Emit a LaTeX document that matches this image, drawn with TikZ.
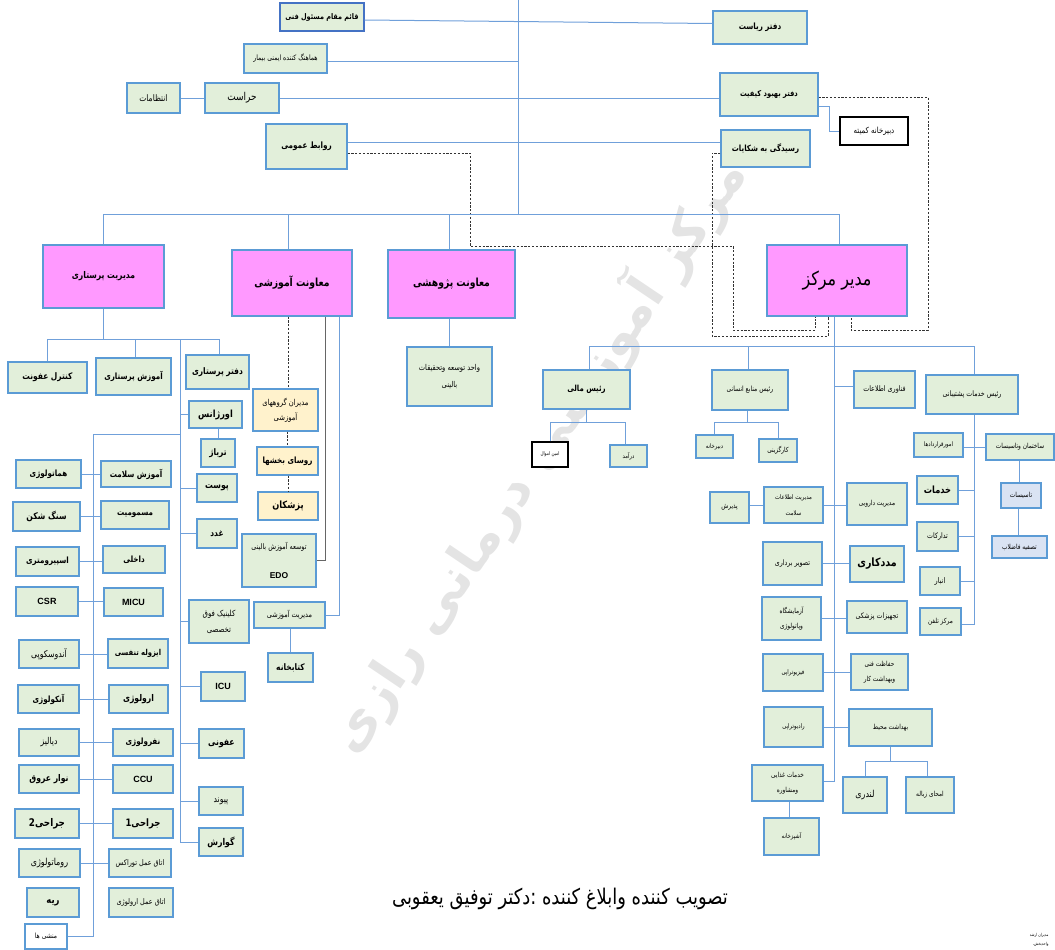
\documentclass[tikz,border=0pt]{standalone}
\usepackage{fontspec}
\setmainfont{Liberation Sans}
\newfontfamily\ar[Script=Arabic,Scale=1.2,FakeStretch=0.83]{DejaVu Sans}
\newfontfamily\arw[Script=Arabic]{DejaVu Sans}
\TeXXeTstate=1
\newcommand{\fa}[1]{{\ar\beginR #1\endR}}
\newcommand{\faw}[1]{{\arw\beginR #1\endR}}
\newcommand{\fzz}[2]{\fontsize{#1}{#2}\selectfont}
\newcommand{\fz}[1]{\fontsize{#1}{#1}\selectfont}
\newcommand{\bfz}[1]{\fontsize{#1}{#1}\selectfont\bfseries}
\newcommand{\Bx}[7]{\node[#1, minimum width={#5-#4}, minimum height={#7-#6}] (#2) at ({(#4+#5)/2},{(#6+#7)/2}) {#3};}
\definecolor{bb}{RGB}{91,155,213}
\definecolor{bd}{RGB}{68,114,196}
\definecolor{gg}{RGB}{226,239,218}
\definecolor{pk}{RGB}{255,153,255}
\definecolor{oy}{RGB}{255,242,204}
\definecolor{lb}{RGB}{218,227,243}
\definecolor{ll}{RGB}{112,160,218}
\definecolor{wmc}{RGB}{228,228,228}
\tikzset{
  gbox/.style={draw=bb, line width=1.1pt, fill=gg, inner sep=0pt, align=center},
  pbox/.style={gbox, fill=pk},
  obox/.style={gbox, fill=oy},
  lbox/.style={gbox, fill=lb},
  wbox/.style={draw=black, line width=1.1pt, fill=white, inner sep=0pt, align=center},
  mbox/.style={gbox, fill=white},
  ln/.style={draw=ll, line width=1pt},
  gl/.style={draw=black!60, line width=1pt},
  dsh/.style={draw=black!80, line width=0.8pt, dash pattern=on 2.2pt off 1.6pt},
}
\begin{document}
\begin{tikzpicture}[x=1pt,y=-1pt]
\useasboundingbox (0,0) rectangle (1055,950);
% watermark
\node[font=\fz{52}\bfseries, text=wmc, rotate=56] (wm) at (536,455) {\faw{مرکز آموزشی درمانی رازی}};

% ---------- top staff ----------
\Bx{gbox,draw=bd,line width=1.3pt,font=\bfz{6.5}}{qaem}{\fa{قائم مقام مسئول فنی}}{280}{364}{3}{31}
\Bx{gbox,font=\bfz{7.2}}{riasat}{\fa{دفتر ریاست}}{713}{807}{11}{44}
\Bx{gbox,font=\fz{6.2}}{hamahang}{\fa{هماهنگ کننده ایمنی بیمار}}{244}{327}{44}{73}
\Bx{gbox,font=\fz{9}}{herasat}{\fa{حراست}}{205}{279}{83}{113}
\Bx{gbox,font=\fz{7.5}}{entezamat}{\fa{انتظامات}}{127}{180}{83}{113}
\Bx{gbox,font=\bfz{6.7}}{behbood}{\fa{دفتر بهبود کیفیت}}{720}{818}{73}{116}
\Bx{wbox,font=\fz{7}}{dabirkomite}{\fa{دبیرخانه کمیته}}{840}{908}{117}{145}
\Bx{gbox,font=\bfz{7.3}}{ravabet}{\fa{روابط عمومی}}{266}{347}{124}{169}
\Bx{gbox,font=\bfz{7.1}}{rasidegi}{\fa{رسیدگی به شکایات}}{721}{810}{130}{167}

% ---------- pink heads ----------
\Bx{pbox,font=\bfz{7.7}}{parastari}{\fa{مدیریت پرستاری}}{43}{164}{245}{308}
\Bx{pbox,font=\bfz{9.3}}{amoozeshi}{\fa{معاونت آموزشی}}{232}{352}{250}{316}
\Bx{pbox,font=\bfz{9.3}}{pazhooheshi}{\fa{معاونت پژوهشی}}{388}{515}{250}{318}
\Bx{pbox,font=\fz{16}}{mdir}{\fa{مدیر مرکز}}{767}{907}{245}{316}

% ---------- nursing ----------
\Bx{gbox,font=\bfz{7.5}}{kontrol}{\fa{کنترل عفونت}}{8}{87}{362}{393}
\Bx{gbox,font=\bfz{7.2}}{amoozparastari}{\fa{آموزش پرستاری}}{96}{171}{358}{395}
\Bx{gbox,font=\bfz{7.5}}{daftarparastari}{\fa{دفتر پرستاری}}{186}{249}{355}{389}
\Bx{gbox,font=\bfz{8.2}}{orjans}{\fa{اورژانس}}{189}{242}{401}{428}
\Bx{gbox,font=\bfz{7.5}}{triazh}{\fa{تریاژ}}{201}{235}{439}{467}
\Bx{gbox,font=\bfz{7.8}}{poost}{\fa{پوست}}{197}{237}{474}{502}
\Bx{gbox,font=\bfz{7.5}}{ghodad}{\fa{غدد}}{197}{237}{519}{548}
\Bx{gbox,font=\fzz{7}{16}}{klinik}{\fa{کلینیک فوق}\\\fa{تخصصی}}{189}{249}{600}{643}
\Bx{gbox,font=\bfz{9}}{icu}{ICU}{201}{245}{672}{701}
\Bx{gbox,font=\bfz{7.8}}{oofooni}{\fa{عفونی}}{199}{244}{729}{758}
\Bx{gbox,font=\fz{7.8}}{peyvand}{\fa{پیوند}}{199}{243}{787}{815}
\Bx{gbox,font=\bfz{7.8}}{govaresh}{\fa{گوارش}}{199}{243}{828}{856}

\Bx{gbox,font=\bfz{7.2}}{amoozsalamat}{\fa{آموزش سلامت}}{101}{171}{461}{487}
\Bx{gbox,font=\bfz{7.2}}{hematology}{\fa{هماتولوژی}}{16}{81}{460}{488}
\Bx{gbox,font=\bfz{7.2}}{masmoomiat}{\fa{مسمومیت}}{101}{169}{501}{529}
\Bx{gbox,font=\bfz{7.7}}{sangshekan}{\fa{سنگ شکن}}{13}{80}{502}{531}
\Bx{gbox,font=\bfz{7.2}}{dakheli}{\fa{داخلی}}{103}{165}{546}{573}
\Bx{gbox,font=\bfz{7.2}}{spirometry}{\fa{اسپیرومتری}}{16}{79}{547}{576}
\Bx{gbox,font=\bfz{9}}{micu}{MICU}{104}{163}{588}{616}
\Bx{gbox,font=\bfz{9}}{csr}{CSR}{16}{78}{587}{616}
\Bx{gbox,font=\bfz{6.8}}{izole}{\fa{ایزوله تنفسی}}{108}{168}{639}{668}
\Bx{gbox,font=\fz{7.8}}{endoscopy}{\fa{آندوسکوپی}}{19}{79}{640}{668}
\Bx{gbox,font=\bfz{7.7}}{urology}{\fa{ارولوژی}}{109}{168}{685}{713}
\Bx{gbox,font=\bfz{7.2}}{oncology}{\fa{آنکولوژی}}{18}{79}{685}{713}
\Bx{gbox,font=\bfz{7.2}}{nephrology}{\fa{نفرولوژی}}{113}{173}{729}{756}
\Bx{gbox,font=\fz{7.8}}{dialysis}{\fa{دیالیز}}{19}{79}{729}{756}
\Bx{gbox,font=\bfz{9}}{ccu}{CCU}{113}{173}{765}{793}
\Bx{gbox,font=\bfz{7.7}}{navar}{\fa{نوار عروق}}{19}{79}{765}{793}
\Bx{gbox,font=\bfz{8.5}}{jarahi1}{\fa{جراحی1}}{113}{173}{809}{838}
\Bx{gbox,font=\bfz{8.8}}{jarahi2}{\fa{جراحی2}}{15}{79}{809}{838}
\Bx{gbox,font=\fz{6.5}}{toraks}{\fa{اتاق عمل توراکس}}{109}{171}{849}{877}
\Bx{gbox,font=\fz{8}}{rheum}{\fa{روماتولوژی}}{19}{80}{849}{877}
\Bx{gbox,font=\fz{6.5}}{orolozhi}{\fa{اتاق عمل ارولوژی}}{109}{173}{888}{917}
\Bx{gbox,font=\bfz{8.5}}{rie}{\fa{ریه}}{27}{79}{888}{917}
\Bx{mbox,font=\fz{6}}{monshi}{\fa{منشی ها}}{25}{67}{924}{949}

% ---------- education ----------
\Bx{obox,font=\fzz{6.8}{15}}{modiran}{\fa{مدیران گروههای}\\\fa{آموزشی}}{253}{318}{389}{431}
\Bx{obox,font=\bfz{7.2}}{rosa}{\fa{روسای بخشها}}{257}{318}{447}{475}
\Bx{obox,font=\bfz{8.3}}{pezeshkan}{\fa{پزشکان}}{258}{318}{492}{520}
\Bx{gbox,font=\fzz{6.4}{29}}{edo}{\fa{توسعه آموزش بالینی}\\{\bfseries\fz{8.5}EDO}}{242}{316}{534}{587}
\Bx{gbox,font=\fz{6.5}}{mamoozeshi}{\fa{مدیریت آموزشی}}{254}{325}{602}{628}
\Bx{gbox,font=\bfz{7.5}}{ketab}{\fa{کتابخانه}}{268}{313}{653}{682}
\Bx{gbox,font=\fzz{6.7}{17}}{vahed}{\fa{واحد توسعه وتحقیقات}\\\fa{بالینی}}{407}{492}{347}{406}

% ---------- director subtree ----------
\Bx{gbox,font=\bfz{7}}{mali}{\fa{رئیس  مالی}}{543}{630}{370}{409}
\Bx{gbox,font=\fz{6}}{manabe}{\fa{رئیس منابع انسانی}}{712}{788}{370}{410}
\Bx{gbox,font=\fz{6.4}}{fanavari}{\fa{فناوری اطلاعات}}{854}{915}{371}{408}
\Bx{gbox,font=\fz{6.3}}{poshtibani}{\fa{رئیس  خدمات پشتیبانی}}{926}{1018}{375}{414}
\Bx{wbox,font=\fz{4.2}}{amin}{\fa{امین اموال}}{532}{568}{442}{467}
\Bx{gbox,font=\fz{5.2}}{daramad}{\fa{درآمد}}{610}{647}{445}{467}
\Bx{gbox,font=\fz{5.2}}{dabirkhane}{\fa{دبیرخانه}}{696}{733}{435}{458}
\Bx{gbox,font=\fz{5.8}}{kargozini}{\fa{کارگزینی}}{759}{797}{439}{462}

\Bx{gbox,font=\fz{5.2}}{gharardad}{\fa{امورقراردادها}}{914}{963}{433}{457}
\Bx{gbox,font=\fz{5.8}}{sakhteman}{\fa{ساختمان وتاسیسات}}{986}{1054}{434}{460}
\Bx{lbox,font=\fz{5.8}}{tasisat}{\fa{تاسیسات}}{1001}{1041}{483}{508}
\Bx{lbox,font=\fz{5.8}}{tasfie}{\fa{تصفیه فاضلاب}}{992}{1047}{536}{558}
\Bx{gbox,font=\bfz{8.3}}{khadamat}{\fa{خدمات}}{917}{958}{476}{504}
\Bx{gbox,font=\fz{6.3}}{tadarokat}{\fa{تدارکات}}{917}{958}{522}{551}
\Bx{gbox,font=\fz{6.5}}{anbar}{\fa{انبار}}{920}{960}{567}{595}
\Bx{gbox,font=\fz{5.8}}{telephone}{\fa{مرکز تلفن}}{920}{961}{608}{635}

\Bx{gbox,font=\fzz{5.3}{16}}{salamat}{\fa{مدیریت اطلاعات}\\\fa{سلامت}}{764}{823}{487}{523}
\Bx{gbox,font=\fz{5.8}}{darooii}{\fa{مدیریت دارویی}}{847}{907}{483}{525}
\Bx{gbox,font=\fz{5.8}}{paziresh}{\fa{پذیرش}}{710}{749}{492}{523}
\Bx{gbox,font=\fz{6.3}}{tasvir}{\fa{تصویر برداری}}{763}{822}{542}{585}
\Bx{gbox,font=\bfz{9.5}}{madadkari}{\fa{مددکاری}}{850}{904}{546}{582}
\Bx{gbox,font=\fzz{5.8}{15}}{azmayesh}{\fa{آزمایشگاه}\\\fa{وپاتولوژی}}{762}{821}{597}{640}
\Bx{gbox,font=\fz{6.3}}{tajhizat}{\fa{تجهیزات پزشکی}}{847}{907}{601}{633}
\Bx{gbox,font=\fz{5.3}}{fizio}{\fa{فیزیوتراپی}}{763}{823}{654}{691}
\Bx{gbox,font=\fzz{5.8}{15}}{hefazat}{\fa{حفاظت فنی}\\\fa{وبهداشت کار}}{851}{908}{654}{690}
\Bx{gbox,font=\fz{5.3}}{radio}{\fa{رادیوتراپی}}{764}{823}{707}{747}
\Bx{gbox,font=\fz{5.8}}{behdasht}{\fa{بهداشت محیط}}{849}{932}{709}{746}
\Bx{gbox,font=\fzz{5.8}{15}}{ghazayi}{\fa{خدمات غذایی}\\\fa{ومشاوره}}{752}{823}{765}{801}
\Bx{gbox,font=\fz{5.3}}{ashpaz}{\fa{آشپزخانه}}{764}{819}{818}{855}
\Bx{gbox,font=\fz{8}}{landry}{\fa{لندری}}{843}{887}{777}{813}
\Bx{gbox,font=\fz{5.8}}{zobale}{\fa{امحای زباله}}{906}{954}{777}{813}

% ---------- texts ----------
\node[font=\fz{18}] (sign) at (560,899) {\fa{تصویب کننده وابلاغ کننده :دکتر توفیق یعقوبی}};
\node[font=\fzz{3.5}{9}, align=right, anchor=north east] (arshad) at (1052,930) {\fa{مدیران ارشد}\\\fa{واحدبخش،}};

% ---------- connectors: top ----------
\coordinate (top) at (518,0);
\coordinate (bus) at (0,214);
\draw[ln] (top) -- (top |- bus);
\draw[ln] ([yshift=-3pt]qaem.east) -- ([yshift=4pt]riasat.west);
\draw[ln] ([yshift=-3.5pt]hamahang.east) -- ([yshift=-3.5pt]hamahang.east -| top);
\draw[ln] (entezamat) -- (herasat);
\draw[ln] (herasat.east) -- (herasat.east -| behbood.west);
\draw[ln] ([yshift=4.5pt]ravabet.east) -- ([yshift=4.5pt]ravabet.east -| rasidegi.west);
\draw[ln] ([yshift=-11.5pt]behbood.east) -- ++(11,0) |- (dabirkomite.west);

\draw[dsh] ([yshift=-6.5pt]ravabet.east) -| (470,246) -| (733,330) -| ([xshift=-22pt]mdir.south);
\draw[dsh] ([yshift=-4.5pt]rasidegi.west) -| (712,336) -| ([xshift=-9pt]mdir.south);
\draw[dsh] ([yshift=-2.5pt]behbood.east) -| (928,330) -| ([xshift=14pt]mdir.south);

\draw[ln] (parastari.north) -- (parastari.north |- bus) -- ([xshift=2pt]mdir.north |- bus) -- ([xshift=2pt]mdir.north);
\draw[ln] ([xshift=-4pt]amoozeshi.north) -- ([xshift=-4pt]amoozeshi.north |- bus);
\draw[ln] ([xshift=-2.5pt]pazhooheshi.north) -- ([xshift=-2.5pt]pazhooheshi.north |- bus);

% ---------- nursing ----------
\coordinate (nbus) at (0,339);
\coordinate (c180) at (180,339);
\draw[ln] (parastari.south) -- (parastari.south |- nbus);
\draw[ln] (kontrol.north) -- (kontrol.north |- nbus) -- ([xshift=1.5pt]daftarparastari.north |- nbus) -- ([xshift=1.5pt]daftarparastari.north);
\draw[ln] ([xshift=1.5pt]amoozparastari.north) -- ([xshift=1.5pt]amoozparastari.north |- nbus);
\draw[ln] (c180) -- (c180 |- govaresh.west);
\foreach \n in {orjans,poost,ghodad,klinik,icu,oofooni,peyvand,govaresh}
  \draw[ln] (\n.west) -- (\n.west -| c180);
\draw[ln] (triazh.north |- orjans.south) -- (triazh.north);
\coordinate (c93) at (93,434);
\draw[ln] (c93 -| c180) -- (c93) -- (c93 |- monshi.east) -- (monshi.east);
\foreach \l/\r in {hematology/amoozsalamat,sangshekan/masmoomiat,spirometry/dakheli,csr/micu,endoscopy/izole,oncology/urology,dialysis/nephrology,navar/ccu,jarahi2/jarahi1,rheum/toraks}
  \draw[ln] (\l.east) -- (\l.east -| \r.west);

% ---------- education ----------
\draw[dsh] ([xshift=-4pt]amoozeshi.south) -- ([xshift=-4pt]amoozeshi.south |- modiran.north);
\draw[dsh] (rosa.north |- modiran.south) -- (rosa.north);
\draw[dsh] (pezeshkan.north |- rosa.south) -- (pezeshkan.north);
\draw[gl] ([xshift=33pt]amoozeshi.south) |- (edo.east);
\draw[ln] ([xshift=47pt]amoozeshi.south) |- (mamoozeshi.east);
\draw[ln] (ketab.north |- mamoozeshi.south) -- (ketab.north);
\draw[ln] (vahed.north |- pazhooheshi.south) -- (vahed.north);

% ---------- director ----------
\coordinate (mv) at ([xshift=-3pt]mdir.south);
\coordinate (rbus) at (0,346);
\draw[ln] (mv) |- ([yshift=2pt]ghazayi.east);
\draw[ln] ([xshift=2.5pt]mali.north) -- ([xshift=2.5pt]mali.north |- rbus) -- ([xshift=2pt]poshtibani.north |- rbus) -- ([xshift=2pt]poshtibani.north);
\draw[ln] ([xshift=-2pt]manabe.north) -- ([xshift=-2pt]manabe.north |- rbus);
\draw[ln] ([yshift=3pt]fanavari.west) -- ([yshift=3pt]fanavari.west -| mv);
\coordinate (mb) at (0,422);
\draw[ln] (mali.south) -- (mali.south |- mb);
\draw[ln] (amin.north) -- (amin.north |- mb) -- ([xshift=-3.5pt]daramad.north |- mb) -- ([xshift=-3.5pt]daramad.north);
\draw[ln] ([xshift=-3pt]manabe.south) -- ([xshift=-3pt]manabe.south |- mb);
\draw[ln] (dabirkhane.north) -- (dabirkhane.north |- mb) -- (kargozini.north |- mb) -- (kargozini.north);

\coordinate (pv) at ([xshift=2pt]poshtibani.south);
\draw[ln] (pv) |- ([yshift=-2.5pt]telephone.east);
\draw[ln] (sakhteman.west -| gharardad.east) -- (sakhteman.west);
\draw[ln] ([xshift=-2pt]tasisat.north |- sakhteman.south) -- ([xshift=-2pt]tasisat.north);
\draw[ln] ([xshift=-1.5pt]tasfie.north |- tasisat.south) -- ([xshift=-1.5pt]tasfie.north);
\foreach \n in {khadamat,tadarokat,anbar}
  \draw[ln] (\n.east) -- (\n.east -| pv);

\draw[ln] (salamat.west -| paziresh.east) -- (salamat.west);
\foreach \l/\r in {salamat/darooii,tasvir/madadkari,azmayesh/tajhizat,fizio/hefazat,radio/behdasht}
  \draw[ln] (\l.east) -- (\l.east -| \r.west);
\draw[ln] ([xshift=-2.5pt]ashpaz.north |- ghazayi.south) -- ([xshift=-2.5pt]ashpaz.north);
\coordinate (hb) at (0,761);
\draw[ln] (behdasht.south) -- (behdasht.south |- hb);
\draw[ln] (landry.north) -- (landry.north |- hb) -- ([xshift=-3pt]zobale.north |- hb) -- ([xshift=-3pt]zobale.north);
\end{tikzpicture}
\end{document}
